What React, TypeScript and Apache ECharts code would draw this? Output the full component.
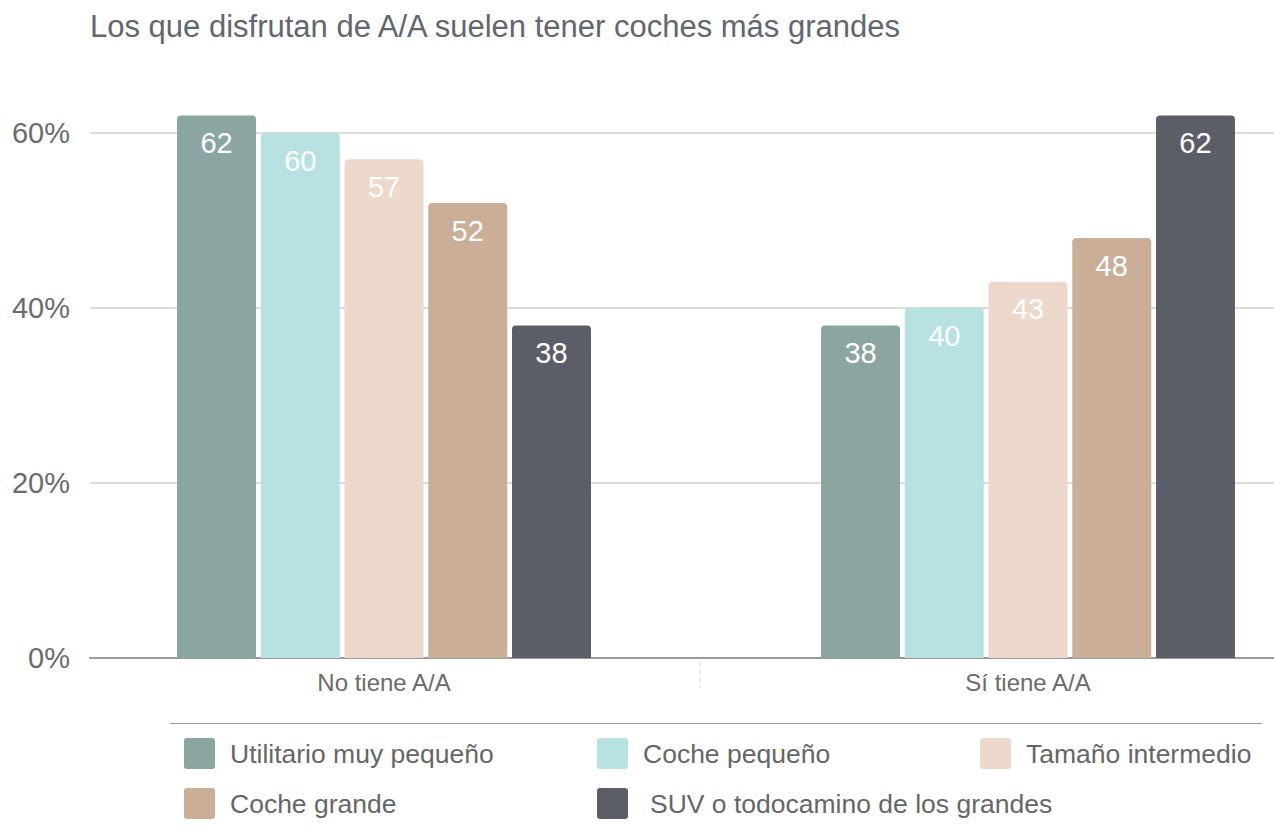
import React, { useEffect, useRef } from "react";
import * as echarts from "echarts";

const title = "Los que disfrutan de A/A suelen tener coches más grandes";
const categories = ["No tiene A/A", "Sí tiene A/A"];
const seriesNames = [
  "Utilitario muy pequeño",
  "Coche pequeño",
  "Tamaño intermedio",
  "Coche grande",
  "SUV o todocamino de los grandes",
];
const seriesColors = ["#8ba6a1", "#b8e2e1", "#ecd9cc", "#caae97", "#5b5e67"];
const utilitario = [62, 38];
const pequeno = [60, 40];
const intermedio = [57, 43];
const grande = [52, 48];
const suv = [38, 62];
const seriesValues = [utilitario, pequeno, intermedio, grande, suv];
const yTicks = [0, 20, 40, 60];
const yMax = 62;

const FONT = "'Liberation Sans', Arial, sans-serif";
const ICON =
  "path://M3,0 H28 A3,3 0 0 1 31,3 V28 A3,3 0 0 1 28,31 H3 A3,3 0 0 1 0,28 V3 A3,3 0 0 1 3,0 Z";

const legendPos = [
  { left: 184, top: 738, pad: 10 },
  { left: 597, top: 738, pad: 10 },
  { left: 980, top: 738, pad: 10 },
  { left: 184, top: 788, pad: 10 },
  { left: 597, top: 788, pad: 17 },
];

export default function App() {
  const ref = useRef<HTMLDivElement>(null);
  useEffect(() => {
    if (!ref.current) return;
    const chart = echarts.init(ref.current, undefined, { renderer: "svg" });
    const gridTop = 115.5;
    const gridBottom = 169;
    const grid = "#dcdcde";
    chart.setOption({
      animation: false,
      backgroundColor: "#ffffff",
      textStyle: { fontFamily: FONT },
      title: {
        text: title,
        left: 90,
        top: 11,
        padding: 0,
        textStyle: {
          fontFamily: FONT,
          fontSize: 31,
          fontWeight: "normal",
          color: "#62666e",
        },
      },
      legend: seriesNames.map((name, i) => ({
        data: [name],
        left: legendPos[i].left,
        top: legendPos[i].top,
        padding: 0,
        itemWidth: 31,
        itemHeight: 31,
        icon: ICON,
        selectedMode: false,
        textStyle: {
          fontFamily: FONT,
          fontSize: 26.5,
          color: "#666666",
          padding: [0, 0, 0, legendPos[i].pad],
        },
      })),
      grid: [
        { left: 90, right: 0, top: gridTop, bottom: gridBottom },
        { left: 384, right: 246, top: gridTop, bottom: gridBottom },
      ],
      xAxis: [
        {
          type: "category",
          gridIndex: 0,
          data: categories,
          axisLabel: { show: false },
          axisTick: { show: false },
          axisLine: { show: true, lineStyle: { color: "#9a9a9e", width: 2 } },
          splitLine: { show: false },
        },
        {
          type: "category",
          gridIndex: 1,
          data: categories,
          boundaryGap: false,
          axisLabel: {
            show: true,
            fontFamily: FONT,
            fontSize: 24,
            color: "#6b6b6b",
            margin: 12,
          },
          axisTick: { show: false },
          axisLine: { show: false },
          splitLine: { show: false },
        },
      ],
      yAxis: [
        {
          type: "value",
          gridIndex: 0,
          min: yTicks[0],
          max: yMax,
          interval: yTicks[1] - yTicks[0],
          axisLine: { show: false },
          axisTick: { show: false },
          axisLabel: {
            formatter: "{value}%",
            fontFamily: FONT,
            fontSize: 29,
            color: "#6b6b6b",
            margin: 20,
            showMaxLabel: false,
          },
          splitLine: {
            show: true,
            lineStyle: {
              color: ["transparent", grid, grid, grid, "transparent"],
              width: 2,
            },
          },
        },
        {
          type: "value",
          gridIndex: 1,
          min: yTicks[0],
          max: yMax,
          interval: yTicks[1] - yTicks[0],
          show: false,
          splitLine: { show: false },
        },
      ],
      series: seriesNames.map((name, i) => ({
        name,
        type: "bar",
        xAxisIndex: 1,
        yAxisIndex: 1,
        data: seriesValues[i],
        barWidth: 79,
        barGap: "6%",
        itemStyle: { color: seriesColors[i], borderRadius: [4, 4, 0, 0] },
        label: {
          show: true,
          position: "insideTop",
          distance: 13,
          color: "#ffffff",
          fontFamily: FONT,
          fontSize: 29,
        },
      })),
      graphic: [
        {
          type: "line",
          shape: { x1: 170, y1: 723.5, x2: 1262, y2: 723.5 },
          style: { stroke: "#9a9a9a", lineWidth: 1 },
        },
        {
          type: "line",
          shape: { x1: 700, y1: 662, x2: 700, y2: 688 },
          style: { stroke: "#d0d0d0", lineWidth: 1, lineDash: [4, 4] },
        },
      ],
    });
    return () => chart.dispose();
  }, []);
  return (
    <div
      ref={ref}
      style={{ position: "absolute", left: 0, top: 0, width: 1274, height: 827 }}
    />
  );
}
